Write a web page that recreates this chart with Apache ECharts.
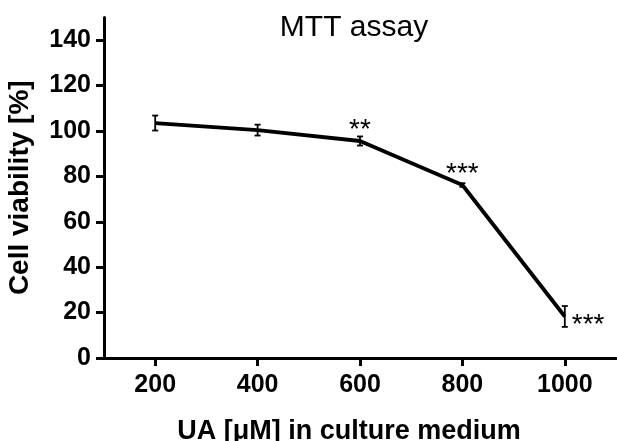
<!DOCTYPE html>
<html>
<head>
<meta charset="utf-8">
<script src="https://cdn.jsdelivr.net/npm/echarts@6/dist/echarts.min.js"></script>
<style>
html,body{margin:0;padding:0;background:#fff;}
#chart{width:617px;height:441px;}
</style>
</head>
<body>
<div id="chart"></div>
<script>
const doses = [200, 400, 600, 800, 1000];
const viability = [103.5, 100.4, 95.6, 76.2, 18.3];
const errors = [3.3, 2.4, 2.0, 0.8, 4.6];
const significance = ['', '', '**', '***', '***'];
const yTicks = [0, 20, 40, 60, 80, 100, 120, 140];
const xTicks = [200, 400, 600, 800, 1000];

const chart = echarts.init(document.getElementById('chart'), null, {renderer: 'canvas'});
const lineData = doses.map((d, i) => [d, viability[i]]);
const errData = doses.map((d, i) => [d, viability[i], errors[i], i]);

const option = {
  backgroundColor: '#ffffff',
  animation: false,
  title: {
    text: 'MTT assay',
    left: 349, top: 8, textAlign: 'center',
    textStyle: {fontFamily: 'Liberation Sans', fontWeight: 'normal', fontSize: 30, color: '#000'}
  },
  grid: {left: 104, right: 1, top: 17.5, bottom: 83, containLabel: false, outerBoundsMode: 'none'},
  xAxis: {
    type: 'value', min: 100, max: 1100,
    name: 'UA [\u03bcM] in culture medium', nameLocation: 'middle', nameGap: 60,
    nameTextStyle: {fontFamily: 'Liberation Sans', fontWeight: 'bold', fontSize: 27, color: '#000',
      padding: [0, 22, 0, 0]},
    axisLine: {show: true, lineStyle: {color: '#000', width: 3}},
    axisTick: {show: true, length: 8, lineStyle: {color: '#000', width: 3}, customValues: xTicks},
    axisLabel: {customValues: xTicks, margin: 15, formatter: v => String(v),
      fontFamily: 'Liberation Sans', fontWeight: 'bold', fontSize: 25, color: '#000'},
    splitLine: {show: false}
  },
  yAxis: {
    type: 'value', min: 0, max: 150,
    name: 'Cell viability [%]', nameLocation: 'middle', nameGap: 70, nameRotate: 90,
    nameTextStyle: {fontFamily: 'Liberation Sans', fontWeight: 'bold', fontSize: 28, color: '#000'},
    axisLine: {show: true, lineStyle: {color: '#000', width: 3}},
    axisTick: {show: true, length: 8, lineStyle: {color: '#000', width: 3}, customValues: yTicks},
    axisLabel: {customValues: yTicks, margin: 13, formatter: v => String(v),
      fontFamily: 'Liberation Sans', fontWeight: 'bold', fontSize: 25, color: '#000'},
    splitLine: {show: false}
  },
  series: [
    {
      type: 'line', data: lineData, symbol: 'none',
      lineStyle: {color: '#000', width: 3.8}, z: 3
    },
    {
      type: 'custom', data: errData, z: 4,
      renderItem: function (params, api) {
        const x = api.value(0), y = api.value(1), e = api.value(2);
        const idx = api.value(3);
        const sig = significance[idx];
        const top = api.coord([x, y + e]);
        const bot = api.coord([x, y - e]);
        const mid = api.coord([x, y]);
        const cap = 3;
        const st = {stroke: '#000', lineWidth: 1.8};
        const children = [
          {type: 'line', shape: {x1: top[0], y1: top[1], x2: bot[0], y2: bot[1]}, style: st},
          {type: 'line', shape: {x1: top[0] - cap, y1: top[1], x2: top[0] + cap, y2: top[1]}, style: st},
          {type: 'line', shape: {x1: bot[0] - cap, y1: bot[1], x2: bot[0] + cap, y2: bot[1]}, style: st}
        ];
        if (sig) {
          const isLast = idx === doses.length - 1;
          children.push({
            type: 'text',
            style: {
              text: sig,
              x: isLast ? mid[0] + 7 : mid[0],
              y: isLast ? mid[1] + 9 : mid[1] - 11,
              align: isLast ? 'left' : 'center',
              verticalAlign: 'middle',
              fontFamily: 'Liberation Sans', fontSize: 28, fill: '#000'
            }
          });
        }
        return {type: 'group', children: children};
      }
    }
  ]
};
chart.setOption(option);
</script>
</body>
</html>
